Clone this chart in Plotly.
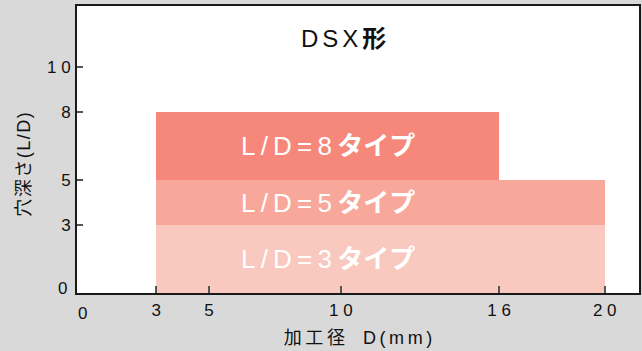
import plotly.graph_objects as go

# Data
type_labels = ["L/D=3", "L/D=5", "L/D=8"]
d_min = [3, 3, 3]            # processing diameter start (mm)
d_max = [20, 20, 16]         # processing diameter end (mm)
ld_low = [0, 3, 5]           # hole depth range low (L/D)
ld_high = [3, 5, 8]          # hole depth range high (L/D)
bar_colors = ["#f9c9bf", "#f8a89a", "#f5887a"]

x_tickvals = [3, 5, 10, 16, 20]
y_tickvals = [3, 5, 8, 10]
origin_label = "0"
x_title = "加工径\u3000D(mm)"
y_title = "穴深さ(L/D)"

def spaced(s, sp):
    return sp.join(list(s))

FONT = "Liberation Sans, Arial, Noto Sans CJK JP, sans-serif"
TICK_SIZE = 17

fig = go.Figure()
for i in range(len(type_labels)):
    fig.add_trace(go.Bar(
        orientation="h",
        y=[(ld_low[i] + ld_high[i]) / 2],
        x=[d_max[i] - d_min[i]],
        base=[d_min[i]],
        width=[ld_high[i] - ld_low[i]],
        marker=dict(color=bar_colors[i], line=dict(width=0)),
        showlegend=False,
        hoverinfo="skip",
    ))

# labels inside bars, centred over the narrowest range
cx = (d_min[2] + d_max[2]) / 2
for i, lab in enumerate(type_labels):
    fig.add_annotation(
        x=cx, y=(ld_low[i] + ld_high[i]) / 2, xref="x", yref="y",
        text=spaced(lab, "\u2009") + "\u2009<b>タイプ</b>",
        showarrow=False,
        font=dict(family=FONT, size=26, color="white"),
    )

fig.add_annotation(
    x=0.475, y=0.887, xref="paper", yref="paper", yanchor="middle",
    text=spaced("DSX", "\u2006") + "\u2006<b>形</b>",
    showarrow=False,
    font=dict(family=FONT, size=24, color="#111111"),
)

# origin labels
fig.add_annotation(x=0, y=0, xref="x", yref="paper", xanchor="center", yanchor="top",
                   xshift=5, yshift=-9, text=origin_label, showarrow=False,
                   font=dict(family=FONT, size=TICK_SIZE, color="#111111"))
fig.add_annotation(x=0, y=0, xref="paper", yref="y", xanchor="right", yanchor="middle",
                   xshift=-8, yshift=5, text=origin_label, showarrow=False,
                   font=dict(family=FONT, size=TICK_SIZE, color="#111111"))

# y-axis title (placed slightly below the axis centre as in the original)
fig.add_annotation(x=0, y=5.67, xref="paper", yref="y", xanchor="center", yanchor="middle",
                   xshift=-53, textangle=-90, text=spaced(y_title, "\u200a"),
                   showarrow=False, font=dict(family=FONT, size=18, color="#111111"))

fig.update_layout(
    width=642, height=351,
    margin=dict(l=77, r=1, t=6, b=58),
    paper_bgcolor="#d9d9d9",
    plot_bgcolor="#ffffff",
    bargap=0,
    barmode="overlay",
    font=dict(family=FONT, size=TICK_SIZE, color="#111111"),
)
fig.update_xaxes(
    range=[0, 21.3],
    tickvals=x_tickvals,
    ticktext=[spaced(str(v), " ") for v in x_tickvals],
    ticks="inside", ticklen=7, tickwidth=1.5, tickcolor="#555555",
    ticklabelstandoff=1,
    showgrid=False, zeroline=False,
    showline=True, mirror=True, linecolor="#1a1a1a", linewidth=2,
    title=dict(text=x_title.replace("加工径", spaced("加工径", "\u2009")).replace("D(mm)", spaced("D(mm)", "\u2009")),
               font=dict(size=18), standoff=12),
)
fig.update_yaxes(
    range=[0, 12.7],
    tickvals=y_tickvals,
    ticktext=[spaced(str(v), " ") for v in y_tickvals],
    ticks="inside", ticklen=6, tickwidth=1.5, tickcolor="#555555",
    ticklabelstandoff=1,
    showgrid=False, zeroline=False,
    showline=True, mirror=True, linecolor="#1a1a1a", linewidth=2,
)

fig.write_html("out.html")
